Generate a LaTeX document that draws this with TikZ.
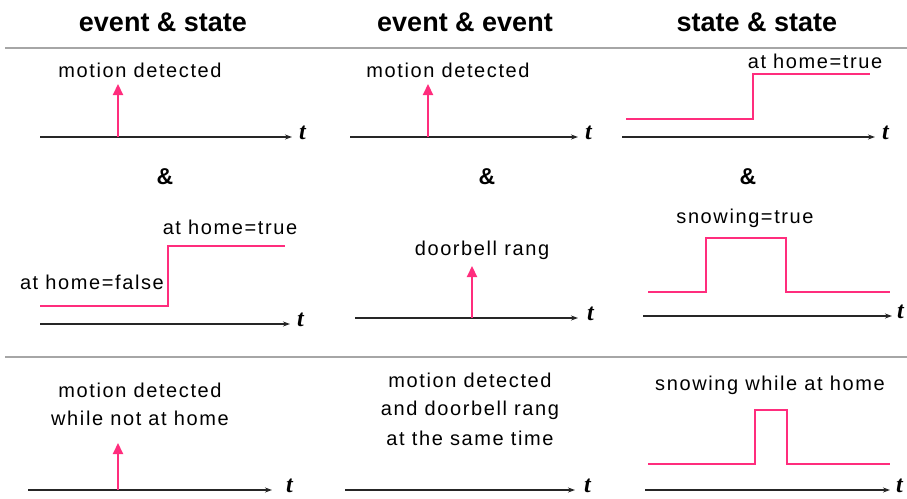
\documentclass[tikz,border=0pt]{standalone}
\usepackage{fontspec}
\setmainfont{Liberation Sans}
\newfontfamily\lblfont{Liberation Sans}[LetterSpace=8]
\newfontfamily\tfont{Liberation Serif}
\usetikzlibrary{arrows.meta}
\definecolor{signal}{RGB}{255,45,125}
\begin{document}
\begin{tikzpicture}[x=1pt,y=-1pt,
  axis/.style={-{Stealth[length=7pt,width=5pt]}, line width=1.8pt, black!85},
  sig/.style={signal, line width=2.2pt},
  evt/.style={sig, -{Triangle[length=11pt,width=10pt]}},
  lbl/.style={font=\lblfont\fontsize{20}{28}\selectfont, inner sep=0pt},
  head/.style={font=\fontsize{27}{30}\selectfont\bfseries, inner sep=0pt},
  amp/.style={font=\fontsize{23}{26}\selectfont\bfseries, inner sep=0pt},
  tlab/.style={font=\fontsize{24}{26}\selectfont\tfont\bfseries\itshape, anchor=west, inner sep=0pt},
  rule/.style={gray!70, line width=2pt}]
\useasboundingbox (0,0) rectangle (907,498);

% column headings and separating rules
\node[head] (h1) at (163,22) {event \& state};
\node[head] (h2) at (465,22) {event \& event};
\node[head] (h3) at (757,22) {state \& state};
\coordinate (r1a) at (5,48);  \coordinate (r1b) at (907,48);
\coordinate (r2a) at (5,357); \coordinate (r2b) at (907,357);
\draw[rule] (r1a) -- (r1b);
\draw[rule] (r2a) -- (r2b);

% ---------- event & state ----------
\coordinate (a11s) at (40,137); \coordinate (a11e) at (292,137);
\draw[axis] (a11s) -- (a11e);
\node[tlab] (t11) at (299,133) {t};
\coordinate (e11) at (118,137); \coordinate (e11top) at (118,84);
\draw[evt] (e11) -- (e11top);
\node[lbl] (l11) at (140,70) {motion detected};
\node[amp] (amp1) at (165,177) {\&};

\coordinate (a12s) at (40,324); \coordinate (a12e) at (290,324);
\draw[axis] (a12s) -- (a12e);
\node[tlab] (t12) at (297,320) {t};
\coordinate (s12a) at (40,306); \coordinate (s12b) at (168,306);
\coordinate (s12c) at (168,246); \coordinate (s12d) at (285,246);
\draw[sig] (s12a) -- (s12b) -- (s12c) -- (s12d);
\node[lbl] (l12a) at (230,227) {at home=true};
\node[lbl, anchor=east] (l12b) at (164,282) {at home=false};

\coordinate (a13s) at (28,490); \coordinate (a13e) at (272,490);
\draw[axis] (a13s) -- (a13e);
\node[tlab] (t13) at (286,486) {t};
\coordinate (e13) at (118,490); \coordinate (e13top) at (118,443);
\draw[evt] (e13) -- (e13top);
\node[lbl] (l13a) at (140,390) {motion detected};
\node[lbl] (l13b) at (140,418) {while not at home};

% ---------- event & event ----------
\coordinate (a21s) at (350,137); \coordinate (a21e) at (578,137);
\draw[axis] (a21s) -- (a21e);
\node[tlab] (t21) at (585,133) {t};
\coordinate (e21) at (428,137); \coordinate (e21top) at (428,84);
\draw[evt] (e21) -- (e21top);
\node[lbl] (l21) at (448,70) {motion detected};
\node[amp] (amp2) at (487,177) {\&};

\coordinate (a22s) at (355,318); \coordinate (a22e) at (578,318);
\draw[axis] (a22s) -- (a22e);
\node[tlab] (t22) at (587,314) {t};
\coordinate (e22) at (472,318); \coordinate (e22top) at (472,266);
\draw[evt] (e22) -- (e22top);
\node[lbl] (l22) at (482,250) {doorbell rang};

\coordinate (a23s) at (345,490); \coordinate (a23e) at (575,490);
\draw[axis] (a23s) -- (a23e);
\node[tlab] (t23) at (584,486) {t};
\node[lbl] (l23a) at (470,380) {motion detected};
\node[lbl] (l23b) at (470,410) {and doorbell rang};
\node[lbl] (l23c) at (470,438) {at the same time};

% ---------- state & state ----------
\coordinate (a31s) at (622,137); \coordinate (a31e) at (875,137);
\draw[axis] (a31s) -- (a31e);
\node[tlab] (t31) at (882,133) {t};
\coordinate (s31a) at (626,119); \coordinate (s31b) at (753,119);
\coordinate (s31c) at (753,74);  \coordinate (s31d) at (870,74);
\draw[sig] (s31a) -- (s31b) -- (s31c) -- (s31d);
\node[lbl] (l31) at (815,61) {at home=true};
\node[amp] (amp3) at (748,177) {\&};

\coordinate (a32s) at (643,316); \coordinate (a32e) at (892,316);
\draw[axis] (a32s) -- (a32e);
\node[tlab] (t32) at (897,312) {t};
\coordinate (s32a) at (648,292); \coordinate (s32b) at (706,292);
\coordinate (s32c) at (706,238); \coordinate (s32d) at (786,238);
\coordinate (s32e) at (786,292); \coordinate (s32f) at (890,292);
\draw[sig] (s32a) -- (s32b) -- (s32c) -- (s32d) -- (s32e) -- (s32f);
\node[lbl] (l32) at (745,218) {snowing=true};

\coordinate (a33s) at (645,490); \coordinate (a33e) at (890,490);
\draw[axis] (a33s) -- (a33e);
\node[tlab] (t33) at (896,486) {t};
\coordinate (s33a) at (648,464); \coordinate (s33b) at (755,464);
\coordinate (s33c) at (755,410); \coordinate (s33d) at (787,410);
\coordinate (s33e) at (787,464); \coordinate (s33f) at (890,464);
\draw[sig] (s33a) -- (s33b) -- (s33c) -- (s33d) -- (s33e) -- (s33f);
\node[lbl] (l33) at (770,385) {snowing while at home};
\end{tikzpicture}
\end{document}
